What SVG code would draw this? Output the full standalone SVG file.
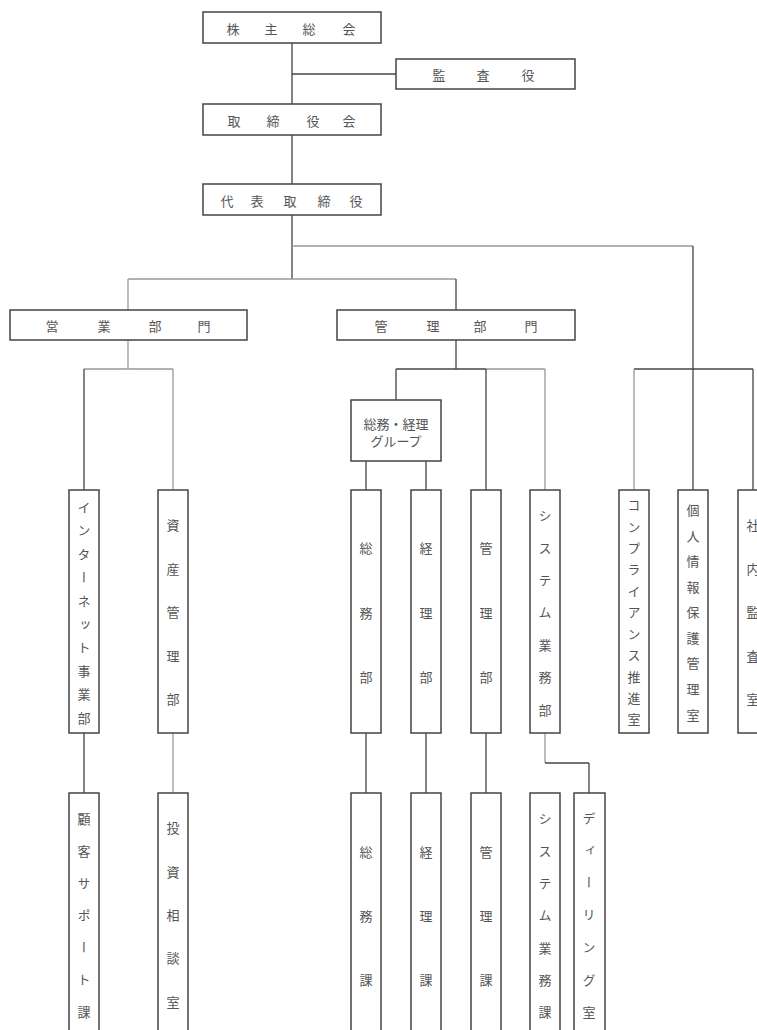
<svg xmlns="http://www.w3.org/2000/svg" width="757" height="1030" viewBox="0 0 757 1030">
<style>
.box{fill:#fff;stroke:#444;stroke-width:1.5}
.d{stroke:#444;stroke-width:1.3;fill:none}
.l{stroke:#999;stroke-width:1.3;fill:none}
text{font-family:"Noto Sans CJK JP","Noto Sans",sans-serif;font-size:13px;fill:#555}
.h{text-anchor:middle;dominant-baseline:central}
.v{writing-mode:vertical-rl;text-anchor:middle}
</style>
<rect width="757" height="1030" fill="#fff"/>
<g id="connectors">
<line class="d" x1="292" y1="43" x2="292" y2="104"/>
<line class="d" x1="292" y1="74" x2="396" y2="74"/>
<line class="d" x1="292" y1="135" x2="292" y2="184"/>
<line class="d" x1="292" y1="215" x2="292" y2="279"/>
<line class="l" x1="292" y1="246" x2="693" y2="246"/>
<line class="d" x1="693" y1="246" x2="693" y2="490"/>
<line class="l" x1="128" y1="279" x2="456" y2="279"/>
<line class="l" x1="128" y1="279" x2="128" y2="310"/>
<line class="d" x1="456" y1="279" x2="456" y2="310"/>
<line class="l" x1="128" y1="340" x2="128" y2="369"/>
<line class="l" x1="84" y1="369" x2="173" y2="369"/>
<line class="d" x1="84" y1="369" x2="84" y2="490"/>
<line class="l" x1="173" y1="369" x2="173" y2="490"/>
<line class="d" x1="456" y1="340" x2="456" y2="369"/>
<line class="d" x1="396" y1="369" x2="486" y2="369"/>
<line class="l" x1="486" y1="369" x2="545" y2="369"/>
<line class="d" x1="396" y1="369" x2="396" y2="400"/>
<line class="d" x1="486" y1="369" x2="486" y2="490"/>
<line class="l" x1="545" y1="369" x2="545" y2="490"/>
<line class="d" x1="366" y1="461" x2="366" y2="490"/>
<line class="d" x1="426" y1="461" x2="426" y2="490"/>
<line class="d" x1="634" y1="369" x2="753" y2="369"/>
<line class="l" x1="634" y1="369" x2="634" y2="490"/>
<line class="d" x1="753" y1="369" x2="753" y2="490"/>
<line class="d" x1="84" y1="733" x2="84" y2="793"/>
<line class="l" x1="173" y1="733" x2="173" y2="793"/>
<line class="d" x1="366" y1="733" x2="366" y2="793"/>
<line class="d" x1="426" y1="733" x2="426" y2="793"/>
<line class="d" x1="486" y1="733" x2="486" y2="793"/>
<line class="l" x1="545" y1="733" x2="545" y2="763"/>
<line class="d" x1="545" y1="763" x2="589" y2="763"/>
<line class="d" x1="589" y1="763" x2="589" y2="793"/>
</g>
<g id="kabunushi"><rect class="box" x="203" y="12" width="178" height="31"/><text class="h" x="233 271 309 349" y="28">株主総会</text></g>
<g id="kansayaku"><rect class="box" x="396" y="59" width="179" height="30"/><text class="h" x="439 483 528" y="74">監査役</text></g>
<g id="torishimariyakukai"><rect class="box" x="203" y="104" width="178" height="31"/><text class="h" x="234 273 313 349" y="120">取締役会</text></g>
<g id="daihyo"><rect class="box" x="203" y="184" width="178" height="31"/><text class="h" x="227 257 290 324 356" y="200">代表取締役</text></g>
<g id="eigyo"><rect class="box" x="10" y="310" width="237" height="30"/><text class="h" x="52 104 155 204" y="325">営業部門</text></g>
<g id="kanri"><rect class="box" x="337" y="310" width="238" height="30"/><text class="h" x="381 433 480 531" y="325">管理部門</text></g>
<g id="somu-keiri-group"><rect class="box" x="351" y="400" width="90" height="61"/><text class="h" x="396" y="423">総務・経理</text><text class="h" x="396" y="440">グループ</text></g>
<g id="internet"><rect class="box" x="69" y="490" width="30" height="243"/><text class="v" x="84" y="507 530 554 577 601 624 647 671 694 718">インターネット事業部</text></g>
<g id="shisan"><rect class="box" x="158" y="490" width="30" height="243"/><text class="v" x="173" y="525 569 612 656 699">資産管理部</text></g>
<g id="somubu"><rect class="box" x="351" y="490" width="30" height="243"/><text class="v" x="366" y="548 613 677">総務部</text></g>
<g id="keiribu"><rect class="box" x="411" y="490" width="30" height="243"/><text class="v" x="426" y="548 613 677">経理部</text></g>
<g id="kanribu"><rect class="box" x="471" y="490" width="30" height="243"/><text class="v" x="486" y="548 613 677">管理部</text></g>
<g id="system"><rect class="box" x="530" y="490" width="30" height="243"/><text class="v" x="545" y="515 548 580 612 645 677 710">システム業務部</text></g>
<g id="compliance"><rect class="box" x="619" y="490" width="30" height="243"/><text class="v" x="634" y="505 527 548 569 591 612 634 655 677 698 719">コンプライアンス推進室</text></g>
<g id="kojinjoho"><rect class="box" x="678" y="490" width="30" height="243"/><text class="v" x="693" y="510 536 561 587 612 638 663 689 715">個人情報保護管理室</text></g>
<g id="shanaikansa"><rect class="box" x="738" y="490" width="30" height="243"/><text class="v" x="753" y="525 569 612 656 699">社内監査室</text></g>
<g id="kokyaku"><rect class="box" x="69" y="793" width="30" height="260"/><text class="v" x="84" y="819 851 883 915 947 979 1012">顧客サポート課</text></g>
<g id="toshisodan"><rect class="box" x="158" y="793" width="30" height="260"/><text class="v" x="173" y="828 872 915 958 1002">投資相談室</text></g>
<g id="somuka"><rect class="box" x="351" y="793" width="30" height="260"/><text class="v" x="366" y="852 916 980">総務課</text></g>
<g id="keirika"><rect class="box" x="411" y="793" width="30" height="260"/><text class="v" x="426" y="852 916 980">経理課</text></g>
<g id="kanrika"><rect class="box" x="471" y="793" width="30" height="260"/><text class="v" x="486" y="852 916 980">管理課</text></g>
<g id="systemka"><rect class="box" x="530" y="793" width="30" height="260"/><text class="v" x="545" y="818 851 883 915 948 980 1012">システム業務課</text></g>
<g id="dealing"><rect class="box" x="574" y="793" width="31" height="260"/><text class="v" x="589" y="818 850 882 914 947 980 1012">ディーリング室</text></g>
</svg>
